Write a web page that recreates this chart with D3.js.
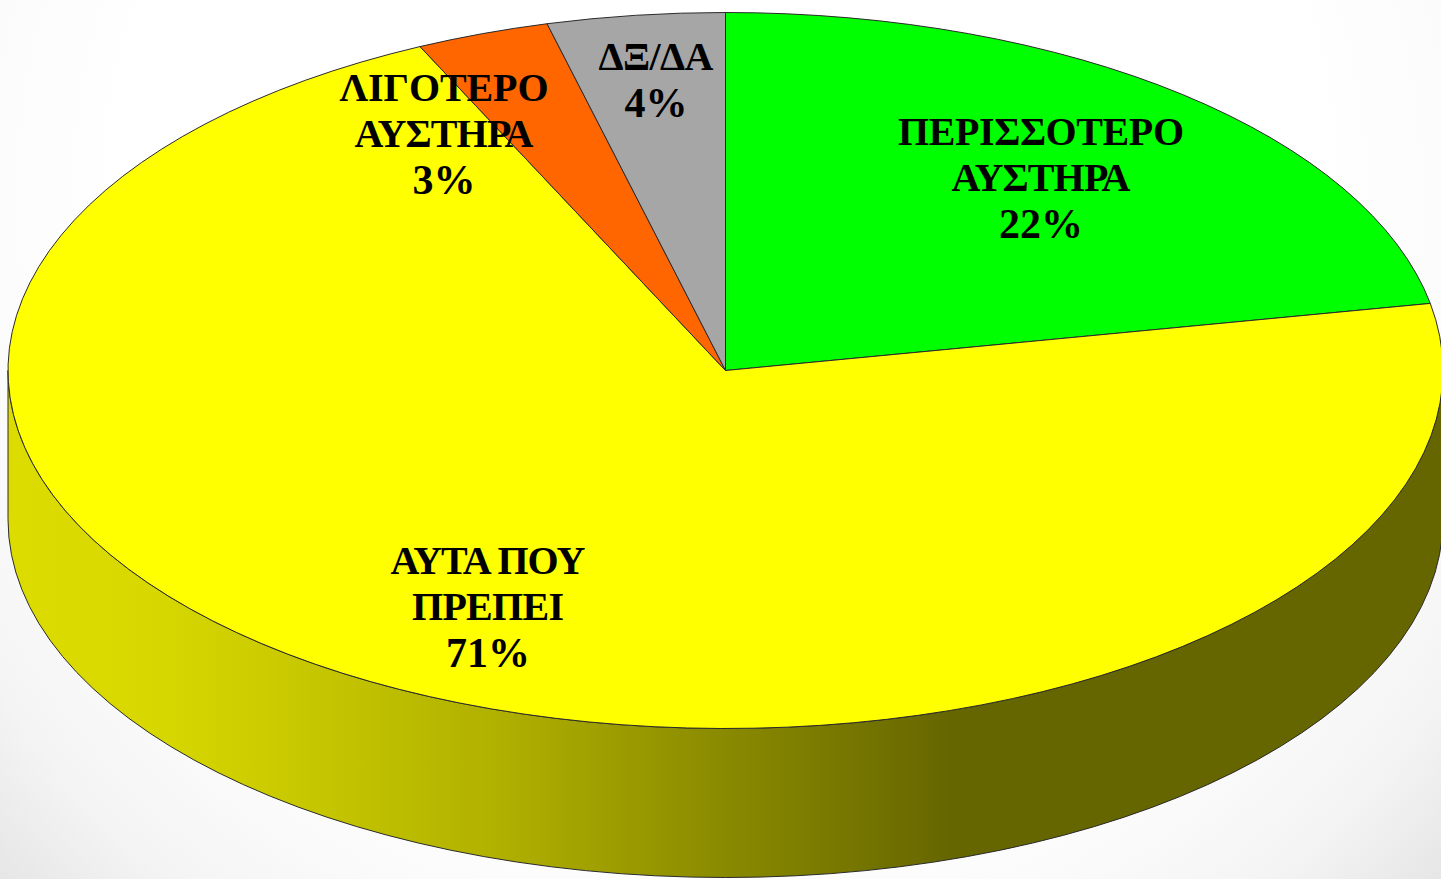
<!DOCTYPE html>
<html lang="el">

<head>
    <meta charset="UTF-8">
    <title>Pie</title>
    <script src="https://d3js.org/d3.v7.min.js"></script>
    <style>
        html, body { margin: 0; padding: 0; background: #fff; overflow: hidden; }
        svg { display: block; }
        text { font-family: "Liberation Serif", serif; font-weight: bold; font-size: 40px; fill: #000; text-anchor: middle; }
        text.pct { font-size: 42px; }
    </style>
</head>

<body>
    <svg id="chart" width="1441" height="879"></svg>
    <script>
        // clockwise from 12 o'clock
        var categories = ["ΠΕΡΙΣΣΟΤΕΡΟ ΑΥΣΤΗΡΑ", "ΑΥΤΑ ΠΟΥ ΠΡΕΠΕΙ", "ΛΙΓΟΤΕΡΟ ΑΥΣΤΗΡΑ", "ΔΞ/ΔΑ"];
        var values = [22, 71, 3, 4];
        var colors = ["#00ff00", "#ffff00", "#ff6600", "#a6a6a6"];
        var labelLines = [["ΠΕΡΙΣΣΟΤΕΡΟ", "ΑΥΣΤΗΡΑ"], ["ΑΥΤΑ ΠΟΥ", "ΠΡΕΠΕΙ"], ["ΛΙΓΟΤΕΡΟ", "ΑΥΣΤΗΡΑ"], ["ΔΞ/ΔΑ"]];

        var W = 1441, H = 879;
        var cx = 725.5, cy = 370.5, rx = 717.5, ry = 358, depth = 149;
        var lineH = 46;
        // first baseline of each label, placed by hand as in the original
        var labelPos = [[1041, 145], [488, 574], [444, 101], [656, 70]];
        // the original font runs a bit tighter than Liberation, so fit the word lines
        var lineWidths = [[286, 179], [195, 152], [209, 179], [115]];

        var svg = d3.select("#chart");
        var defs = svg.append("defs");

        var bg = defs.append("radialGradient").attr("id", "bg")
            .attr("gradientUnits", "userSpaceOnUse")
            .attr("cx", 720).attr("cy", 200).attr("r", 990);
        [[0.6, "#ffffff"], [0.75, "#fbfbfb"], [0.88, "#f4f4f5"], [1, "#e6e6e6"]].forEach(function (s) {
            bg.append("stop").attr("offset", s[0]).attr("stop-color", s[1]);
        });

        var side = defs.append("linearGradient").attr("id", "side")
            .attr("gradientUnits", "userSpaceOnUse")
            .attr("x1", 0).attr("x2", W).attr("y1", 0).attr("y2", 0);
        [[8, "#dcdc00"], [150, "#d8d800"], [300, "#c8c800"], [500, "#b0b000"], [700, "#8e8e00"], [950, "#666600"]].forEach(function (s) {
            side.append("stop").attr("offset", s[0] / W).attr("stop-color", s[1]);
        });

        svg.append("rect").attr("width", W).attr("height", H).attr("fill", "url(#bg)");

        // wall of the disc
        var left = cx - rx, right = cx + rx;
        svg.append("path")
            .attr("d", `M${left},${cy} A${rx},${ry} 0 0 0 ${right},${cy} L${right},${cy + depth} A${rx},${ry} 0 0 1 ${left},${cy + depth} Z`)
            .attr("fill", "url(#side)")
            .attr("stroke", "#2a2a2a")
            .attr("stroke-width", 1);

        var pie = d3.pie().sort(null).value(function (d) { return d; });
        var arc = d3.arc().innerRadius(0).outerRadius(rx);

        var disc = svg.append("g")
            .attr("transform", `translate(${cx},${cy}) scale(1,${ry / rx})`);

        disc.selectAll("path")
            .data(pie(values))
            .enter()
            .append("path")
            .attr("d", arc)
            .attr("fill", function (d, i) { return colors[i]; })
            .attr("stroke", "#2a2a2a")
            .attr("stroke-width", 1)
            .attr("vector-effect", "non-scaling-stroke");

        var labels = svg.append("g");
        categories.forEach(function (c, i) {
            labelLines[i].forEach(function (l, j) {
                labels.append("text")
                    .attr("x", labelPos[i][0])
                    .attr("y", labelPos[i][1] + j * lineH)
                    .attr("textLength", lineWidths[i][j])
                    .attr("lengthAdjust", "spacing")
                    .text(l);
            });
            labels.append("text")
                .attr("class", "pct")
                .attr("x", labelPos[i][0])
                .attr("y", labelPos[i][1] + labelLines[i].length * lineH + 1)
                .text(values[i] + "%");
        });
    </script>
</body>

</html>
